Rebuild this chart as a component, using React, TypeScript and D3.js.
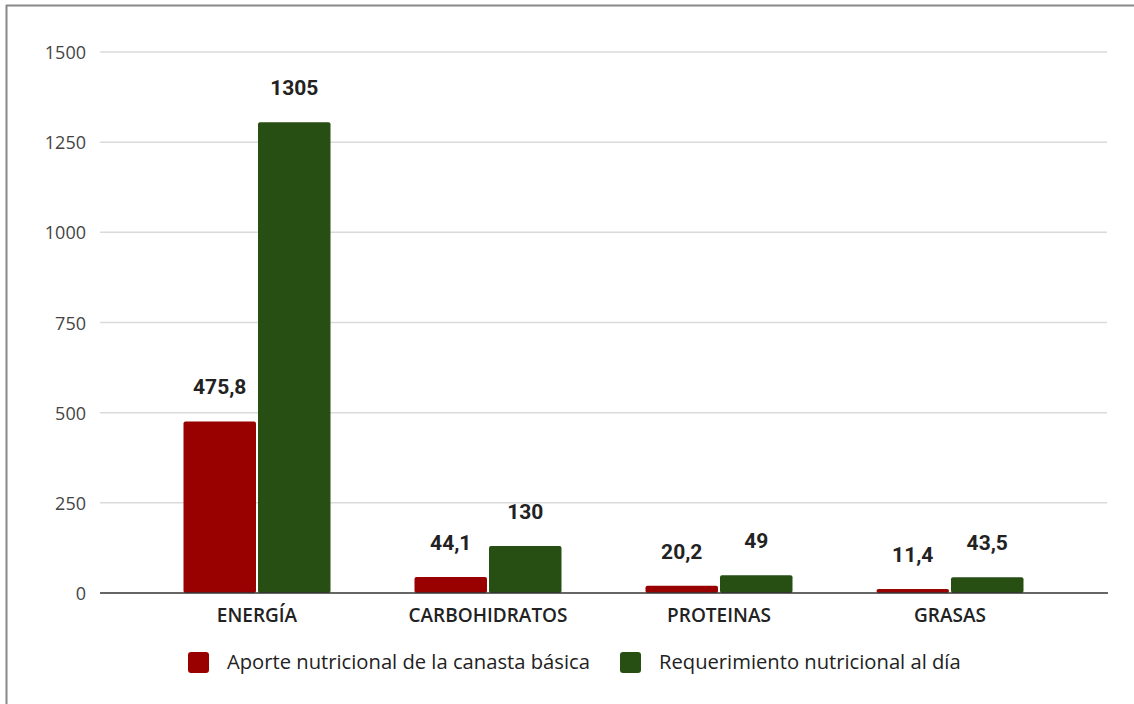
import React from "react";
import * as d3 from "d3";

const categories = ["ENERGÍA", "CARBOHIDRATOS", "PROTEINAS", "GRASAS"];
const aporte = [475.8, 44.1, 20.2, 11.4];
const requerimiento = [1305, 130, 49, 43.5];
const aporteLabels = ["475,8", "44,1", "20,2", "11,4"];
const requerimientoLabels = ["1305", "130", "49", "43,5"];
const yTicks = [0, 250, 500, 750, 1000, 1250, 1500];
const seriesNames = ["Aporte nutricional de la canasta básica", "Requerimiento nutricional al día"];
const seriesColors = ["#990000", "#274e13"];

const W = 1134;
const H = 704;

export default function App() {
  const y = d3.scaleLinear().domain([0, 1500]).range([593, 52]);
  const x0 = d3.scaleBand<string>().domain(categories).range([141.5, 1065.5]).paddingInner(0).paddingOuter(0);
  const groupW = 147;
  const x1 = d3.scaleBand<number>().domain([0, 1]).range([0, groupW]).paddingInner(0.027);
  const groupOffset = (x0.bandwidth() - groupW) / 2;

  const series = [
    { values: aporte, labels: aporteLabels },
    { values: requerimiento, labels: requerimientoLabels },
  ];

  const font = "'Open Sans', 'Noto Sans', sans-serif";
  const labelFont = "Roboto, 'Noto Sans', sans-serif";

  return (
    <svg width={W} height={H} style={{ position: "absolute", left: 0, top: 0, background: "#fff" }}>
      {/* frame */}
      <line x1={6.5} x2={6.5} y1={5} y2={H} stroke="#888" strokeWidth={2} />
      <line x1={6} x2={W} y1={5.5} y2={5.5} stroke="#888" strokeWidth={2} />

      {/* grid + y axis labels */}
      {yTicks.map((t) => (
        <g key={t}>
          {t !== 0 && (
            <line x1={100} x2={1107} y1={y(t)} y2={y(t)} stroke="#dadada" strokeWidth={1.5} />
          )}
          <text x={86} y={y(t) + 7} textAnchor="end" fontFamily={font} fontSize={18} fill="#444">
            {t}
          </text>
        </g>
      ))}

      {/* bars with value labels */}
      {categories.map((c, i) => (
        <g key={c} transform={`translate(${(x0(c) ?? 0) + groupOffset},0)`}>
          {series.map((s, k) => {
            const bx = x1(k) ?? 0;
            const bw = x1.bandwidth();
            const top = y(s.values[i]);
            return (
              <g key={k}>
                <rect x={bx} y={top} width={bw} height={y(0) - top} rx={2} fill={seriesColors[k]} />
                <text
                  x={bx + bw / 2}
                  y={top - 27}
                  textAnchor="middle"
                  fontFamily={labelFont}
                  fontWeight={700}
                  fontSize={21}
                  fill="#222"
                >
                  {s.labels[i]}
                </text>
              </g>
            );
          })}
          <text
            x={groupW / 2}
            y={622}
            textAnchor="middle"
            fontFamily={font}
            fontWeight={600}
            fontSize={19}
            fill="#222"
          >
            {c}
          </text>
        </g>
      ))}

      {/* baseline */}
      <line x1={100} x2={1108} y1={y(0)} y2={y(0)} stroke="#333" strokeWidth={1.5} />

      {/* legend */}
      {seriesNames.map((n, k) => {
        const lx = k === 0 ? 188 : 620;
        return (
          <g key={n}>
            <rect x={lx} y={652} width={21} height={21} rx={3} fill={seriesColors[k]} />
            <text x={lx + 39} y={669} fontFamily={font} fontWeight={500} fontSize={20.2} fill="#222">
              {n}
            </text>
          </g>
        );
      })}
    </svg>
  );
}
